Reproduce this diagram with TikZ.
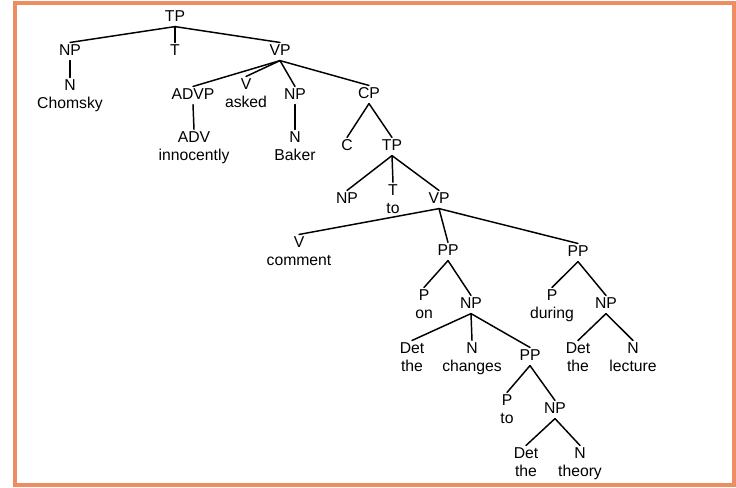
\documentclass[tikz,border=0pt]{standalone}
\usepackage{fontspec}
\setmainfont{Liberation Sans}
\usetikzlibrary{positioning}
\definecolor{frameorange}{RGB}{238,140,100}

\begin{document}
\begin{tikzpicture}[x=0.75pt, y=-0.75pt, node distance=0pt,
  every node/.style={font=\fontsize{11.8}{14}\selectfont, inner sep=1pt, text height=8.2pt, text depth=3pt}]
  % styles
  \tikzstyle{cat}=[anchor=base]
  \tikzstyle{branch}=[line width=1.1pt, line cap=round]

  \useasboundingbox (0,0) rectangle (736,487);
  \draw[frameorange, line width=3pt] (15,3) rectangle (733.5,484.5);

  % top clause
  \node (tp_root) [cat] at (175,21) {TP};
  \node (np_subj) [cat] at (70,55) {NP};
  \node (t_root) [cat] at (175,55) {T};
  \node (vp_main) [cat] at (280,55) {VP};
  \node (n_chomsky) [cat] at (70,90) {N};
  \node (w_chomsky) [below=of n_chomsky] {Chomsky};
  \node (advp) [cat] at (193,99) {ADVP};
  \node (v_asked) [cat] at (246,89) {V};
  \node (w_asked) [below=of v_asked] {asked};
  \node (np_baker) [cat] at (295,99) {NP};
  \node (cp) [cat] at (369,98) {CP};
  \node (adv) [cat] at (194,142) {ADV};
  \node (w_innocently) [below=of adv] {innocently};
  \node (n_baker) [cat] at (295,142) {N};
  \node (w_baker) [below=of n_baker] {Baker};
  \node (c) [cat] at (347,150) {C};
  \node (tp_emb) [cat] at (392,150) {TP};

  % embedded clause
  \node (np_emb) [cat] at (347,203) {NP};
  \node (t_to) [cat] at (393,195) {T};
  \node (w_to) [below=of t_to] {to};
  \node (vp_emb) [cat] at (439,203) {VP};
  \node (v_comment) [cat] at (299,247) {V};
  \node (w_comment) [below=of v_comment] {comment};
  \node (pp_on) [cat] at (448,255) {PP};
  \node (pp_during) [cat] at (578,256) {PP};

  % on the changes to the theory
  \node (p_on) [cat] at (424,300) {P};
  \node (w_on) [below=of p_on] {on};
  \node (np_changes) [cat] at (471,308) {NP};
  \node (det_changes) [cat] at (412,353) {Det};
  \node (w_the_changes) [below=of det_changes] {the};
  \node (n_changes) [cat] at (472,353) {N};
  \node (w_changes) [below=of n_changes] {changes};
  \node (pp_to) [cat] at (530,360) {PP};
  \node (p_to) [cat] at (507,405) {P};
  \node (w_to_theory) [below=of p_to] {to};
  \node (np_theory) [cat] at (555,413) {NP};
  \node (det_theory) [cat] at (526,458) {Det};
  \node (w_the_theory) [below=of det_theory] {the};
  \node (n_theory) [cat] at (580,458) {N};
  \node (w_theory) [below=of n_theory] {theory};

  % during the lecture
  \node (p_during) [cat] at (552,300) {P};
  \node (w_during) [below=of p_during] {during};
  \node (np_lecture) [cat] at (606,308) {NP};
  \node (det_lecture) [cat] at (578,353) {Det};
  \node (w_the_lecture) [below=of det_lecture] {the};
  \node (n_lecture) [cat] at (633,353) {N};
  \node (w_lecture) [below=of n_lecture] {lecture};

  % branches
  \draw[branch] (tp_root.south) -- (np_subj.north);
  \draw[branch] (tp_root.south) -- (t_root.north);
  \draw[branch] (tp_root.south) -- (vp_main.north);
  \draw[branch] (np_subj.south) -- (n_chomsky.north);
  \draw[branch] (vp_main.south) -- (advp.north);
  \draw[branch] (vp_main.south) -- (v_asked.north);
  \draw[branch] (vp_main.south) -- (np_baker.north);
  \draw[branch] (vp_main.south) -- (cp.north);
  \draw[branch] (advp.south) -- (adv.north);
  \draw[branch] (np_baker.south) -- (n_baker.north);
  \draw[branch] (cp.south) -- (c.north);
  \draw[branch] (cp.south) -- (tp_emb.north);
  \draw[branch] (tp_emb.south) -- (np_emb.north);
  \draw[branch] (tp_emb.south) -- (t_to.north);
  \draw[branch] (tp_emb.south) -- (vp_emb.north);
  \draw[branch] (vp_emb.south) -- (v_comment.north);
  \draw[branch] (vp_emb.south) -- (pp_on.north);
  \draw[branch] (vp_emb.south) -- (pp_during.north);
  \draw[branch] (pp_on.south) -- (p_on.north);
  \draw[branch] (pp_on.south) -- (np_changes.north);
  \draw[branch] (np_changes.south) -- (det_changes.north);
  \draw[branch] (np_changes.south) -- (n_changes.north);
  \draw[branch] (np_changes.south) -- (pp_to.north);
  \draw[branch] (pp_to.south) -- (p_to.north);
  \draw[branch] (pp_to.south) -- (np_theory.north);
  \draw[branch] (np_theory.south) -- (det_theory.north);
  \draw[branch] (np_theory.south) -- (n_theory.north);
  \draw[branch] (pp_during.south) -- (p_during.north);
  \draw[branch] (pp_during.south) -- (np_lecture.north);
  \draw[branch] (np_lecture.south) -- (det_lecture.north);
  \draw[branch] (np_lecture.south) -- (n_lecture.north);
\end{tikzpicture}
\end{document}
